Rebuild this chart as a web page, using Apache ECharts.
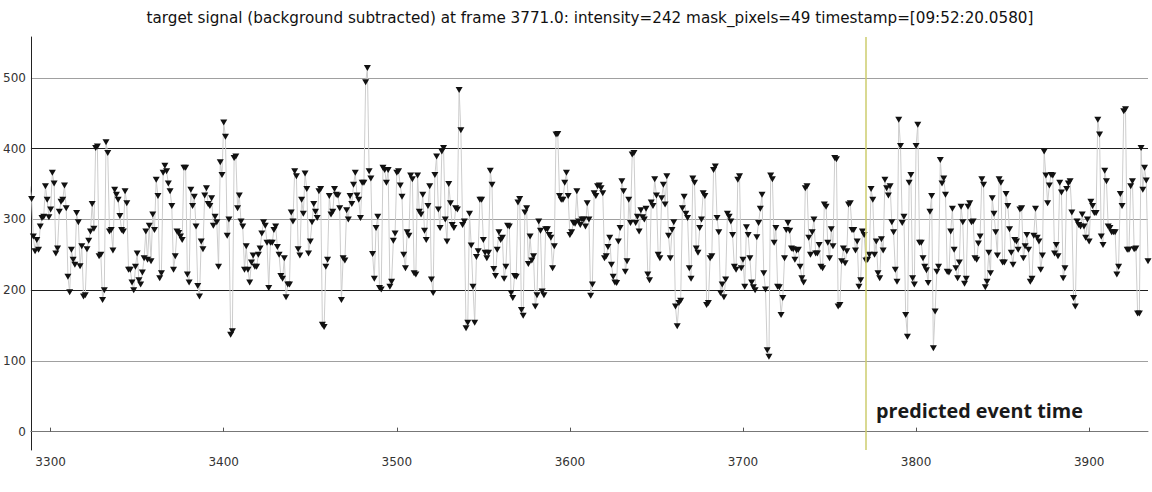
<!DOCTYPE html>
<html><head><meta charset="utf-8">
<script src="https://cdn.jsdelivr.net/npm/echarts@6/dist/echarts.min.js"></script>
<style>html,body{margin:0;padding:0;background:#fff}#c{width:1152px;height:492px}</style>
</head><body><div id="c"></div>
<script>
const titleText = 'target signal (background subtracted) at frame 3771.0: intensity=242 mask_pixels=49 timestamp=[09:52:20.0580]';
const eventLabel = 'predicted event time';
const firstFrame = 3288;
const eventFrame = 3771;
const xRange = [3288.6, 3934];
const yRange = [-26, 558];

const seg1 = [347,329,276,255,271,257,290,302,304,347,328,303,314,366,351,252,259,311,325,328,348,316,219,197,257,243,236,309,296,234,262,191,193,258,270,283,322,287,401,403,248,250,186,200,409,394,283,285,256,342,335,328,305,285];
const seg2 = [283,340,323,229,229,211,200,233,252,214,208,225,245,283,243,291,241,307,285,356,333,217,224,366,376,368,351,340,319,229,248,283,281,276,271,373,373,222,211,342,319,332,290,206,191,269,258,334,344,322,319,330,291,304,296];
const seg3 = [233,381,363,437,417,277,300,137,142,387,389,316,334,297,290,229,262,229,211,239,249,233,233,250,259,280,296,291,267,203,267,267,285,290,261,250,220,216,245,190,208,208,310,297,368,361,258,249,328,308,365,343,252,269,296];
const seg4 = [322,311,302,340,343,151,148,233,243,333,307,311,343,335,334,316,186,245,242,313,300,333,322,349,366,334,328,302,352,352,494,514,368,358,251,216,288,304,203,201,373,370,352,370,205,212,270,280,366,368,348,332,250,231];
const seg5 = [282,277,362,357,224,222,362,311,307,335,284,271,319,347,215,196,363,389,314,288,396,401,300,269,350,323,292,288,316,314,483,426,292,297,146,154,308,263,205,154,247,255,328,328,271,253,245,253,369,349,230,220,257,282,271];
const seg6 = [274,216,233,291,290,196,189,220,219,324,329,172,164,310,316,237,276,242,248,177,193,297,284,198,193,286,286,278,274,231,262,420,421,333,328,328,352,366,333,278,282,295,294,340,297,292,300,300,290,323,300,192,208,337,333];
const seg7 = [347,348,344,337,245,248,261,274,236,219,211,210,269,288,354,340,226,241,328,295,392,394,295,304,283,313,303,300,315,222,214,324,319,357,334,250,245,330,349,321,361,277,245,285,296,177,149,182,185,316,332,308,302,231,216];
const seg8 = [358,352,259,253,288,300,337,333,179,182,245,248,370,375,302,282,196,208,190,215,308,304,297,278,233,229,356,361,231,243,205,289,278,245,211,204,200,275,295,315,335,224,201,115,106,362,357,267,288,205,204,165,189,245];
const seg9 = [285,295,284,259,258,243,256,257,233,217,211,344,347,274,250,282,300,252,252,264,233,231,321,318,267,245,286,262,387,385,177,179,241,259,238,255,321,323,285,285,256,269,205,214,283,278,242,243,250,343,328,250,269,224,217];
const seg10 = [272,256,356,344,334,347,296,282,229,212,441,404,295,304,165,134,352,363,217,208,404,434,267,267,245,233,228,210,311,333,118,170,226,233,384,351,358,335,226,225,283,315,257,231,217,239,318,296,209,216,318,323,296,297,245];
const seg11 = [243,266,276,357,349,204,212,253,224,330,308,282,249,357,352,239,239,336,319,286,253,236,271,269,257,314,316,245,262,278,257,212,216,277,315,274,269,229,249,396,362,323,348,363,362,252,264,248,352,338,217,231,343,351,354,310,189,177,297,292,290,307,290,274,300,269,325,319,309,309,441,420,276,264,369,354,290,288,282,282,282,222,233,336,319,453,456,257,257,347,354,258,259,167,167,401,342,373,355,241];

const intensity = [].concat(seg1, seg2, seg3, seg4, seg5, seg6, seg7, seg8, seg9, seg10, seg11);
const frames = intensity.map((_, i) => firstFrame + i);

const chart = echarts.init(document.getElementById('c'), null, {renderer: 'svg'});
chart.setOption({
  animation: false,
  backgroundColor: '#fff',
  grid: {left: 28, right: 4, top: 37, bottom: 42, containLabel: false},
  graphic: [
    {type: 'text', x: 590, y: 18, style: {text: titleText, fill: '#111', font: '15.2px "DejaVu Sans"', textAlign: 'center', textVerticalAlign: 'middle'}},
    {type: 'text', x: 876, y: 410, style: {text: eventLabel, fill: '#1a1a1a', font: 'bold 19.8px "Open Sans"', textAlign: 'left', textVerticalAlign: 'middle'}}
  ],
  xAxis: {
    type: 'value', min: xRange[0], max: xRange[1], minInterval: 100, maxInterval: 100,
    axisLine: {show: true, lineStyle: {color: '#777', width: 1}},
    axisTick: {show: true, inside: true, length: 4, lineStyle: {color: '#555'}},
    axisLabel: {showMinLabel: false, showMaxLabel: false, color: '#333', fontFamily: 'DejaVu Sans', fontSize: 12, margin: 6,
      formatter: v => (Math.abs(v % 100) < 1e-6 ? String(v) : '')},
    splitLine: {show: false}
  },
  yAxis: {
    type: 'value', min: yRange[0], max: yRange[1], minInterval: 100, maxInterval: 100,
    axisLine: {show: true, lineStyle: {color: '#222', width: 1}},
    axisTick: {show: false},
    axisLabel: {showMinLabel: false, showMaxLabel: false, color: '#333', fontFamily: 'DejaVu Sans', fontSize: 12, margin: 5,
      formatter: v => (Math.abs(v % 100) < 1e-6 ? String(v) : '')},
    splitLine: {show: true, showMinLine: false, showMaxLine: false, lineStyle: {color: ['#1e1e1e', '#a0a0a0'], width: 1}}
  },
  series: [{
    type: 'line',
    data: frames.map((f, i) => [f, intensity[i]]),
    symbol: 'triangle', symbolRotate: 180, symbolSize: [7, 6], showAllSymbol: true,
    itemStyle: {color: '#111'},
    lineStyle: {color: '#cdcdcd', width: 1},
    clip: true,
    markLine: {
      silent: true, symbol: 'none', label: {show: false},
      lineStyle: {color: '#cccc6e', width: 1.5, type: 'solid'},
      data: [{xAxis: eventFrame}]
    }
  }]
});
</script></body></html>
